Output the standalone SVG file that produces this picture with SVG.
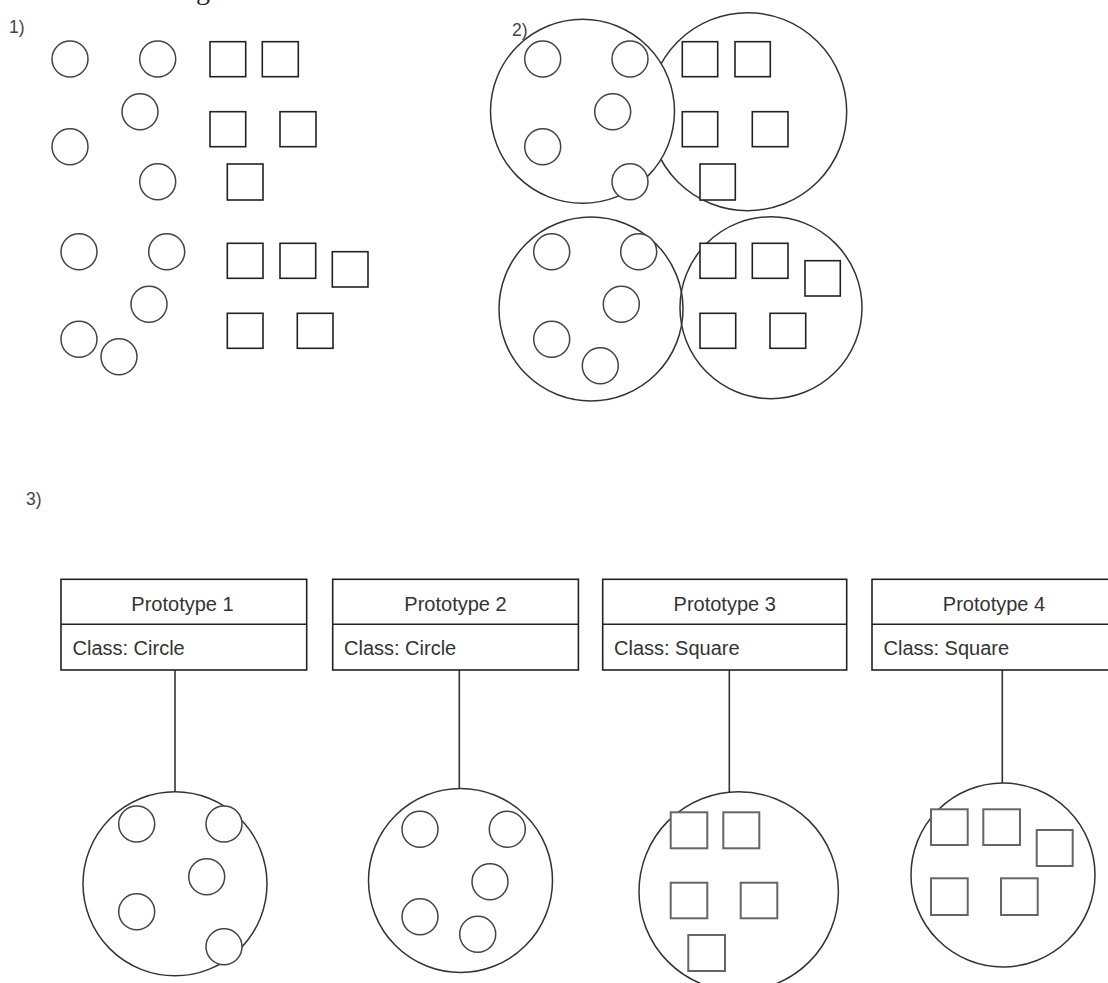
<svg xmlns="http://www.w3.org/2000/svg" width="1108" height="983" viewBox="0 0 1108 983">
<style>
  .sc{fill:#fff;stroke:#444;stroke-width:1.5}
  .big{fill:#fff;stroke:#333;stroke-width:1.5}
  .sq{fill:#fff;stroke:#222;stroke-width:1.6}
  .sq2{fill:#fff;stroke:#666;stroke-width:2}
  .box{fill:#fff;stroke:#222;stroke-width:1.6}
  .lbl{font-family:"Liberation Sans",Arial,sans-serif;fill:#333}
  .t{font-size:20px}
  .num{font-size:17.5px;fill:#444}
  .conn{stroke:#333;stroke-width:1.6;fill:none}
</style>
<rect width="1108" height="983" fill="#fff"/>
<text x="196" y="-1" font-family="'Liberation Serif',serif" font-size="28" fill="#222">g</text>

<g id="section1">
  <text class="lbl num" x="9" y="33">1)</text>
  <circle class="sc" cx="70" cy="59" r="18"/>
  <circle class="sc" cx="157.7" cy="59" r="18"/>
  <circle class="sc" cx="140" cy="111.7" r="18"/>
  <circle class="sc" cx="70" cy="146.7" r="18"/>
  <circle class="sc" cx="157.7" cy="181.7" r="18"/>
  <rect class="sq" x="210" y="41.7" width="35.7" height="35"/>
  <rect class="sq" x="262.3" y="41.7" width="36" height="35"/>
  <rect class="sq" x="210" y="111.7" width="35.7" height="35"/>
  <rect class="sq" x="280" y="111.7" width="36" height="35"/>
  <rect class="sq" x="227.3" y="164" width="35.7" height="36"/>
  <circle class="sc" cx="79" cy="251.7" r="18"/>
  <circle class="sc" cx="166.7" cy="251.7" r="18"/>
  <circle class="sc" cx="149" cy="304.3" r="18"/>
  <circle class="sc" cx="79" cy="339.3" r="18"/>
  <circle class="sc" cx="119" cy="356.7" r="18"/>
  <rect class="sq" x="227.3" y="243.3" width="35.7" height="35"/>
  <rect class="sq" x="280" y="243.3" width="35.7" height="35"/>
  <rect class="sq" x="332.3" y="251.7" width="35.7" height="35.3"/>
  <rect class="sq" x="227.3" y="313.3" width="35.7" height="35"/>
  <rect class="sq" x="297.3" y="313.3" width="35.7" height="35"/>
</g>

<g id="section2">
  <g id="cluster-squares-a">
    <circle class="big" cx="747.7" cy="111.7" r="99"/>
  </g>
  <g id="cluster-circles-a">
    <circle class="big" cx="582.5" cy="111.3" r="92"/>
    <circle class="sc" cx="542.7" cy="59" r="18"/>
    <circle class="sc" cx="630" cy="59" r="18"/>
    <circle class="sc" cx="612.7" cy="111.7" r="18"/>
    <circle class="sc" cx="542.7" cy="146.7" r="18"/>
    <circle class="sc" cx="630" cy="181.7" r="18"/>
  </g>
  <text class="lbl num" x="512" y="36">2)</text>
  <g id="cluster-squares-a-items">
    <rect class="sq" x="682.3" y="41.7" width="35.4" height="35"/>
    <rect class="sq" x="735" y="41.7" width="35.3" height="35"/>
    <rect class="sq" x="682.3" y="111.7" width="35.4" height="35"/>
    <rect class="sq" x="752.3" y="111.7" width="35.7" height="35"/>
    <rect class="sq" x="700" y="164" width="35.3" height="36"/>
  </g>
  <g id="cluster-squares-b">
    <circle class="big" cx="771" cy="307.7" r="91"/>
    <rect class="sq" x="700" y="243.3" width="35.7" height="35"/>
    <rect class="sq" x="752.3" y="243.3" width="35.7" height="35"/>
    <rect class="sq" x="805" y="260.7" width="35.3" height="35.3"/>
    <rect class="sq" x="700" y="313.3" width="35.7" height="35"/>
    <rect class="sq" x="770" y="313.3" width="35.7" height="35"/>
  </g>
  <g id="cluster-circles-b">
    <circle class="big" cx="591" cy="309" r="92" style="fill:none"/>
    <circle class="sc" cx="551.7" cy="251.7" r="18"/>
    <circle class="sc" cx="638.7" cy="251.7" r="18"/>
    <circle class="sc" cx="621.3" cy="304.3" r="18"/>
    <circle class="sc" cx="551.7" cy="339.3" r="18"/>
    <circle class="sc" cx="600.3" cy="365.7" r="18"/>
  </g>
</g>

<text class="lbl num" x="26" y="505">3)</text>

<g id="connectors">
  <line class="conn" x1="175" y1="670" x2="175" y2="792"/>
  <line class="conn" x1="459.3" y1="670" x2="459.3" y2="789"/>
  <line class="conn" x1="729.3" y1="670" x2="729.3" y2="792"/>
  <line class="conn" x1="1002.3" y1="665" x2="1002.3" y2="783"/>
</g>

<g id="prototype1">
  <rect class="box" x="61" y="579.3" width="245.7" height="90.7"/>
  <line class="box" x1="61" y1="624.3" x2="306.7" y2="624.3"/>
  <text class="lbl t" x="182.5" y="610.7" text-anchor="middle">Prototype 1</text>
  <text class="lbl t" x="72.5" y="655">Class: Circle</text>
</g>
<g id="prototype2">
  <rect class="box" x="332.7" y="579.3" width="245.7" height="90.7"/>
  <line class="box" x1="332.7" y1="624.3" x2="578.4" y2="624.3"/>
  <text class="lbl t" x="455.5" y="610.7" text-anchor="middle">Prototype 2</text>
  <text class="lbl t" x="344" y="655">Class: Circle</text>
</g>
<g id="prototype3">
  <rect class="box" x="602.7" y="579.3" width="244" height="90.7"/>
  <line class="box" x1="602.7" y1="624.3" x2="846.7" y2="624.3"/>
  <text class="lbl t" x="724.7" y="610.7" text-anchor="middle">Prototype 3</text>
  <text class="lbl t" x="614" y="655">Class: Square</text>
</g>
<g id="prototype4">
  <rect class="box" x="872" y="579.3" width="245" height="90.7"/>
  <line class="box" x1="872" y1="624.3" x2="1117" y2="624.3"/>
  <text class="lbl t" x="994" y="610.7" text-anchor="middle">Prototype 4</text>
  <text class="lbl t" x="883.5" y="655">Class: Square</text>
</g>

<g id="cluster1">
  <circle class="big" cx="175" cy="883.8" r="92"/>
  <circle class="sc" cx="136.7" cy="824" r="18"/>
  <circle class="sc" cx="224" cy="824" r="18"/>
  <circle class="sc" cx="206.7" cy="876.7" r="18"/>
  <circle class="sc" cx="136.7" cy="911.7" r="18"/>
  <circle class="sc" cx="224" cy="946.7" r="18"/>
</g>
<g id="cluster2">
  <circle class="big" cx="460.5" cy="880.5" r="92"/>
  <circle class="sc" cx="420" cy="829.3" r="18"/>
  <circle class="sc" cx="507.3" cy="829.3" r="18"/>
  <circle class="sc" cx="490" cy="881.7" r="18"/>
  <circle class="sc" cx="420" cy="916.7" r="18"/>
  <circle class="sc" cx="477.7" cy="934.3" r="18"/>
</g>
<g id="cluster3">
  <circle class="big" cx="738.7" cy="891.4" r="99.7"/>
  <rect class="sq2" x="670.7" y="812.3" width="36.6" height="36"/>
  <rect class="sq2" x="723.3" y="812.3" width="36" height="36"/>
  <rect class="sq2" x="670.7" y="882.7" width="36.6" height="35.6"/>
  <rect class="sq2" x="740.7" y="882.7" width="36.6" height="35.6"/>
  <rect class="sq2" x="688.3" y="935" width="36.7" height="36"/>
</g>
<g id="cluster4">
  <circle class="big" cx="1003" cy="875" r="92"/>
  <rect class="sq2" x="931" y="809.3" width="36.7" height="35.7"/>
  <rect class="sq2" x="983.3" y="809.3" width="36.7" height="35.7"/>
  <rect class="sq2" x="1036.7" y="830" width="36" height="36"/>
  <rect class="sq2" x="931" y="878.3" width="36.7" height="36.7"/>
  <rect class="sq2" x="1001" y="878.3" width="36.7" height="36.7"/>
</g>
</svg>
